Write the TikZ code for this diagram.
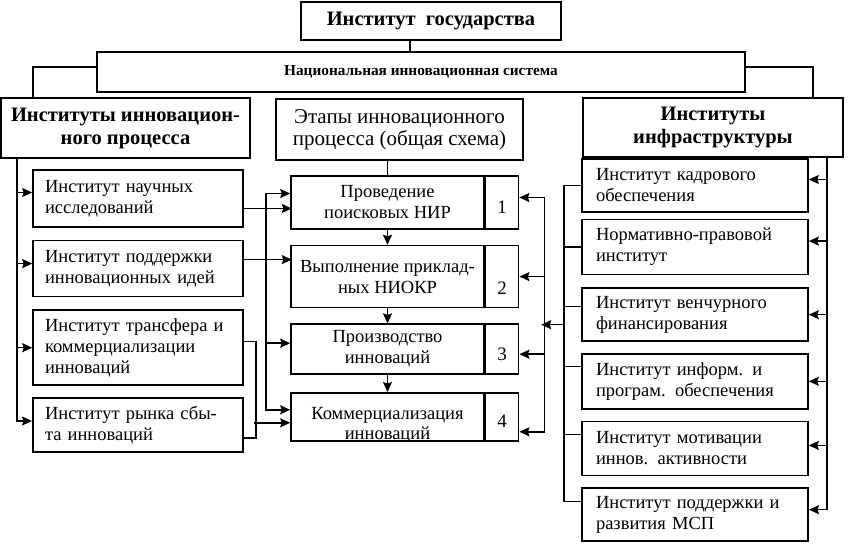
\documentclass[tikz,border=0pt]{standalone}
\usepackage{fontspec}
\setmainfont{Liberation Serif}
\usetikzlibrary{positioning,arrows.meta}

\begin{document}
\begin{tikzpicture}[x=1pt,y=-1pt]
	\tikzset{block/.style={draw,
				rectangle,
				line width=1.6pt,
				inner sep=0pt,
				align=center},
			head/.style={block,
				font=\bfseries\fontsize{20.5}{23}\selectfont},
			item/.style={block,
				align=left,
				inner xsep=12pt,
				text width=#1,
				font=\fontsize{18.5}{21}\selectfont},
			stage/.style={block,
				minimum width=193pt,
				font=\fontsize{18.5}{21}\selectfont},
			num/.style={block,
				minimum width=33pt,
				text height=22pt,
				text depth=0pt,
				font=\fontsize{19}{21}\selectfont},
			link/.style={line width=1.5pt},
			arrow/.style={link,
				->,
				>={Stealth[length=10pt,width=9pt,inset=1.5pt]}}}
	\useasboundingbox (0,0) rectangle (853,543);

	% Nodes
	\node[head, minimum width=260pt, minimum height=38pt] (gov) at (431,21) {Институт\ \ государства};
	\node[block, minimum width=648pt, minimum height=40pt, font=\bfseries\fontsize{15.3}{17}\selectfont] (nis) at (421,72) {Национальная инновационная система};
	\node[head, minimum width=249pt, minimum height=60pt] (lhead) at (125.5,128) {Институты инновацион-\\ного процесса};
	\node[block, minimum width=247pt, minimum height=61pt, font=\fontsize{21}{22}\selectfont] (mhead) at (399.5,129.5) {Этапы инновационного\\процесса (общая схема)};
	\node[head, minimum width=260pt, minimum height=59pt] (rhead) at (713,127.5) {Институты\\инфраструктуры};

	\node[item=186pt, minimum height=57pt] (res) at (138,198.5) {Институт научных\\исследований};
	\node[item=186pt, minimum height=56pt, below=12pt of res] (idea) {Институт поддержки\\инновационных идей};
	\node[item=186pt, minimum height=75pt, below=12pt of idea] (trans) {Институт трансфера и\\коммерциализации\\инноваций};
	\node[item=186pt, minimum height=54pt, below=11pt of trans, line width=2pt] (market) {Институт рынка сбы-\\та инноваций};

	\node[stage, minimum height=53pt] (s1) at (387.5,202.5) {Проведение\\поисковых НИР};
	\node[stage, minimum height=62pt, below=15pt of s1] (s2) {Выполнение приклад-\\ных НИОКР};
	\node[stage, minimum height=50pt, below=15pt of s2] (s3) {Производство\\инноваций};
	\node[stage, minimum height=48pt, below=17pt of s3] (s4) {};
	\node[font=\fontsize{18.5}{20}\selectfont, align=center, inner sep=0pt] (s4text) at ([yshift=-8pt]s4.center) {Коммерциализация\\инноваций};
	\fill[white] (s4.south west) rectangle ([yshift=-14pt]s4.south east);
	\node[num, minimum height=53pt, right=0pt of s1] (n1) {1};
	\node[num, minimum height=62pt, right=0pt of s2, text height=36pt] (n2) {2};
	\node[num, minimum height=50pt, right=0pt of s3] (n3) {3};
	\node[num, minimum height=48pt, right=0pt of s4] (n4) {4};

	\node[item=198pt, minimum height=53pt, inner xsep=14pt] (hr) at (695,185.5) {Институт кадрового\\обеспечения};
	\node[item=198pt, minimum height=55pt, inner xsep=14pt, below=6pt of hr] (law) {Нормативно-правовой\\институт};
	\node[item=198pt, minimum height=53pt, inner xsep=14pt, below=12pt of law] (venture) {Институт венчурного\\финансирования};
	\node[item=198pt, minimum height=55pt, inner xsep=14pt, below=11pt of venture] (info) {Институт информ. и\\програм. обеспечения};
	\node[item=198pt, minimum height=54pt, inner xsep=14pt, below=11pt of info] (motiv) {Институт мотивации\\иннов. активности};
	\node[item=198pt, minimum height=53pt, inner xsep=14pt, below=11pt of motiv, line width=2pt] (sme) {Институт поддержки и\\развития МСП};

	% Arrows
	\coordinate (lbus) at (17,0);
	\coordinate (rbus) at (827,0);
	\draw[link] ([xshift=-21pt]gov.south) -- ++(0,12);
	\draw[link] ([yshift=5pt]nis.west) -| ([xshift=33pt]lhead.north west);
	\draw[link] ([yshift=5pt]nis.east) -| ([xshift=-31pt]rhead.north east);
	\draw[link] (mhead.south -| s1.north) -- (s1.north);

	\draw[arrow] (lbus |- lhead.south) |- ([yshift=4pt]market.west);
	\foreach \n/\s in {res/6,idea/5,trans/0}
		\draw[arrow] ([yshift=\s pt]\n.west) ++(-16,0) -- ([yshift=\s pt]\n.west);

	\draw[arrow] ([yshift=-10pt]res.east) -- ++(48,0);
	\draw[arrow] ([yshift=9pt]idea.east) -- ++(48,0);
	\draw[arrow, <->] ([yshift=9pt]s1.west) -- ++(-24,0) |- ([yshift=7pt]s4.west);
	\draw[arrow] ([yshift=6pt]s3.west) ++(-24,0) -- ([yshift=6pt]s3.west);
	\draw[link] ([yshift=6pt]trans.east) -- ++(12,0) |- ([yshift=-13pt]market.east);
	\draw[arrow] ([yshift=-6pt]s4.west) ++(-36,0) -- ([yshift=-6pt]s4.west);

	\foreach \a/\b in {s1/s2,s2/s3,s3/s4}
		\draw[arrow] (\a.south) -- (\b.north);

	\draw[arrow, <->] ([yshift=5pt]n1.east) -- ++(25,0) |- ([yshift=-15pt]n4.east);
	\foreach \n/\s in {n2/0,n3/-5}
		\draw[arrow] ([yshift=\s pt]\n.east) ++(25,0) -- ([yshift=\s pt]\n.east);

	\draw[link] (hr.west) -- ++(-17,0) |- ([yshift=13pt]sme.west);
	\foreach \n/\s in {law/0,venture/8,info/15,motiv/14}
		\draw[link] ([yshift=\s pt]\n.west) -- ++(-17,0);
	\draw[arrow] ([yshift=-10pt]venture.west) ++(-17,0) -- ++(-23,0);

	\draw[arrow] (rbus |- rhead.south) |- ([yshift=5pt]sme.east);
	\foreach \n/\s in {hr/6,law/6,venture/0,info/0,motiv/3}
		\draw[arrow] ([yshift=\s pt]\n.east) ++(19,0) -- ([yshift=\s pt]\n.east);
\end{tikzpicture}
\end{document}
